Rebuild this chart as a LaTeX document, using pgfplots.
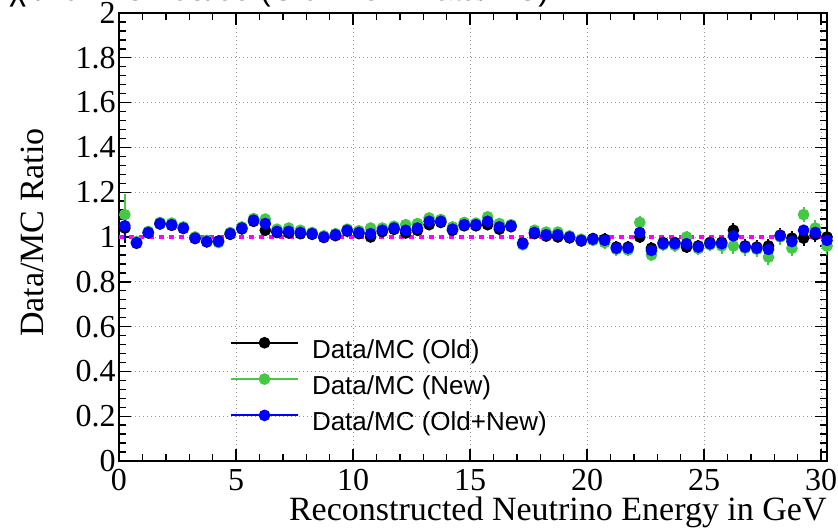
\documentclass[border=0pt]{standalone}
\usepackage{fontspec}
\setmainfont{Liberation Serif}
\newfontfamily\lsans{Liberation Sans}
\usepackage{pgfplots}
\pgfplotsset{compat=1.18}
\definecolor{rgreen}{RGB}{70,200,70}
\definecolor{rblue}{RGB}{0,0,255}
\definecolor{rmag}{RGB}{255,0,255}
\begin{document}
\begin{tikzpicture}
\useasboundingbox (-59.5pt,-34.5pt) rectangle (359.5pt,230.5pt);
\clip (-59.5pt,-34.5pt) rectangle (359.5pt,230.5pt);
\begin{axis}[
  width=354pt, height=224pt, scale only axis,
  xmin=0, xmax=30.25, ymin=0, ymax=2,
  xtick={0,5,10,15,20,25,30},
  ytick={0,0.2,0.4,0.6,0.8,1,1.2,1.4,1.6,1.8,2},
  minor x tick num=4, minor y tick num=4,
  tick align=inside,
  major tick length=6pt, minor tick length=3.5pt,
  every tick/.style={black, line width=0.7pt},
  axis line style={line width=1pt},
  grid=major,
  major grid style={gray!80, line width=0.5pt, dash pattern=on 0.5pt off 1.5pt},
  tick label style={font=\fontsize{16}{16}\selectfont},
  /pgf/number format/assume math mode=true,
  yticklabel style={inner xsep=1.5pt},
  xticklabel style={inner ysep=4pt},
  label style={font=\fontsize{17}{17}\selectfont},
  xlabel={Reconstructed Neutrino Energy in GeV},
  ylabel={Data/MC Ratio},
  xlabel style={at={(axis description cs:1,0)}, anchor=base east, yshift=-29.5pt, inner sep=0pt},
  ylabel style={at={(axis description cs:-0.1229,0.51)}, anchor=center, inner sep=0pt},
  legend style={at={(axis description cs:0.1568,0.2746)}, anchor=north west,
    draw=none, fill=none, inner sep=0pt, outer sep=0pt,
    font=\lsans\fontsize{13}{13}\selectfont, row sep=5pt, column sep=6.5pt,
    nodes={inner sep=0pt, text height=9.5pt, text depth=3pt}},
  legend cell align=left,
  legend image code/.code={\draw[mark repeat=2,mark phase=2,#1,sharp plot] plot coordinates {(0pt,4.5pt) (16.75pt,4.5pt) (33.5pt,4.5pt)};},
  error bars/error bar style={line width=1pt, solid},
]
\addplot[black, line width=1pt, only marks, mark=*, mark size=2.4pt,
  error bars/.cd, y dir=both, y explicit, error mark=none]
  table[x=x, y=y, y error=e] {
x y e
0.25 1.040 0.065
0.75 0.972 0.016
1.25 1.018 0.016
1.75 1.058 0.016
2.25 1.052 0.016
2.75 1.038 0.016
3.25 0.993 0.016
3.75 0.978 0.016
4.25 0.982 0.016
4.75 1.012 0.016
5.25 1.036 0.016
5.75 1.070 0.016
6.25 1.030 0.016
6.75 1.020 0.016
7.25 1.018 0.016
7.75 1.015 0.016
8.25 1.012 0.016
8.75 0.998 0.016
9.25 1.006 0.016
9.75 1.026 0.016
10.25 1.015 0.016
10.75 1.000 0.016
11.25 1.024 0.016
11.75 1.034 0.016
12.25 1.018 0.016
12.75 1.030 0.016
13.25 1.055 0.016
13.75 1.065 0.016
14.25 1.030 0.016
14.75 1.050 0.016
15.25 1.050 0.016
15.75 1.055 0.020
16.25 1.035 0.020
16.75 1.046 0.020
17.25 0.973 0.020
17.75 1.015 0.020
18.25 1.004 0.020
18.75 1.000 0.020
19.25 0.996 0.020
19.75 0.982 0.020
20.25 0.993 0.020
20.75 0.990 0.026
21.25 0.955 0.026
21.75 0.955 0.026
22.25 1.000 0.026
22.75 0.950 0.026
23.25 0.975 0.026
23.75 0.975 0.026
24.25 0.955 0.026
24.75 0.960 0.026
25.25 0.975 0.026
25.75 0.976 0.033
26.25 1.030 0.033
26.75 0.960 0.033
27.25 0.955 0.033
27.75 0.960 0.033
28.25 1.008 0.033
28.75 0.995 0.033
29.25 0.995 0.033
29.75 1.010 0.033
30.25 1.000 0.035
};
\addlegendentry{Data/MC (Old)}
\addplot[rgreen, line width=1pt, only marks, mark=*, mark size=2.4pt,
  error bars/.cd, y dir=both, y explicit, error mark=none]
  table[x=x, y=y, y error=e] {
x y e
0.25 1.100 0.090
0.75 0.980 0.017
1.25 1.025 0.017
1.75 1.065 0.017
2.25 1.062 0.017
2.75 1.045 0.017
3.25 1.000 0.017
3.75 0.985 0.017
4.25 0.975 0.017
4.75 1.020 0.017
5.25 1.045 0.017
5.75 1.082 0.017
6.25 1.080 0.017
6.75 1.035 0.017
7.25 1.040 0.017
7.75 1.030 0.017
8.25 1.020 0.017
8.75 1.005 0.017
9.25 1.015 0.017
9.75 1.035 0.017
10.25 1.028 0.017
10.75 1.040 0.017
11.25 1.040 0.017
11.75 1.048 0.017
12.25 1.055 0.017
12.75 1.060 0.017
13.25 1.085 0.017
13.75 1.078 0.017
14.25 1.045 0.017
14.75 1.065 0.017
15.25 1.062 0.017
15.75 1.090 0.021
16.25 1.060 0.021
16.75 1.055 0.021
17.25 0.965 0.021
17.75 1.030 0.021
18.25 1.022 0.021
18.75 1.022 0.021
19.25 1.005 0.021
19.75 0.990 0.021
20.25 0.985 0.021
20.75 0.975 0.028
21.25 0.945 0.028
21.75 0.942 0.028
22.25 1.065 0.028
22.75 0.920 0.028
23.25 0.965 0.028
23.75 0.962 0.028
24.25 1.000 0.028
24.75 0.948 0.028
25.25 0.965 0.028
25.75 0.960 0.035
26.25 0.960 0.035
26.75 0.950 0.035
27.25 0.945 0.035
27.75 0.910 0.035
28.25 1.000 0.035
28.75 0.950 0.035
29.25 1.100 0.035
29.75 1.040 0.035
30.25 0.960 0.040
};
\addlegendentry{Data/MC (New)}
\addplot[rblue, line width=1pt, only marks, mark=*, mark size=2.4pt,
  error bars/.cd, y dir=both, y explicit, error mark=none]
  table[x=x, y=y, y error=e] {
x y e
0.25 1.050 0.060
0.75 0.975 0.012
1.25 1.020 0.012
1.75 1.060 0.012
2.25 1.055 0.012
2.75 1.040 0.012
3.25 0.995 0.012
3.75 0.980 0.012
4.25 0.980 0.012
4.75 1.015 0.012
5.25 1.040 0.012
5.75 1.075 0.012
6.25 1.060 0.012
6.75 1.025 0.012
7.25 1.025 0.012
7.75 1.020 0.012
8.25 1.015 0.012
8.75 1.000 0.012
9.25 1.010 0.012
9.75 1.030 0.012
10.25 1.020 0.012
10.75 1.015 0.012
11.25 1.030 0.012
11.75 1.040 0.012
12.25 1.030 0.012
12.75 1.040 0.012
13.25 1.070 0.012
13.75 1.070 0.012
14.25 1.035 0.012
14.75 1.055 0.012
15.25 1.055 0.012
15.75 1.070 0.015
16.25 1.045 0.015
16.75 1.050 0.015
17.25 0.970 0.015
17.75 1.020 0.015
18.25 1.010 0.015
18.75 1.010 0.015
19.25 1.000 0.015
19.75 0.985 0.015
20.25 0.990 0.015
20.75 0.985 0.020
21.25 0.950 0.020
21.75 0.950 0.020
22.25 1.020 0.020
22.75 0.940 0.020
23.25 0.970 0.020
23.75 0.970 0.020
24.25 0.970 0.020
24.75 0.955 0.020
25.25 0.970 0.020
25.75 0.970 0.025
26.25 1.005 0.025
26.75 0.955 0.025
27.25 0.950 0.025
27.75 0.945 0.025
28.25 1.005 0.025
28.75 0.980 0.025
29.25 1.030 0.025
29.75 1.020 0.025
30.25 0.985 0.028
};
\addlegendentry{Data/MC (Old+New)}
\addplot[rmag, line width=1.8pt, dash pattern=on 2.5pt off 2.5pt, forget plot]
  coordinates {(0,1) (30.25,1)};
\end{axis}
\node[anchor=base west, inner sep=0pt, font=\lsans\fontsize{16}{16}\selectfont] at (-55pt,230pt) {χ²/ndf = 51.05/60 (Old+New Data/MC)};
\end{tikzpicture}
\end{document}
